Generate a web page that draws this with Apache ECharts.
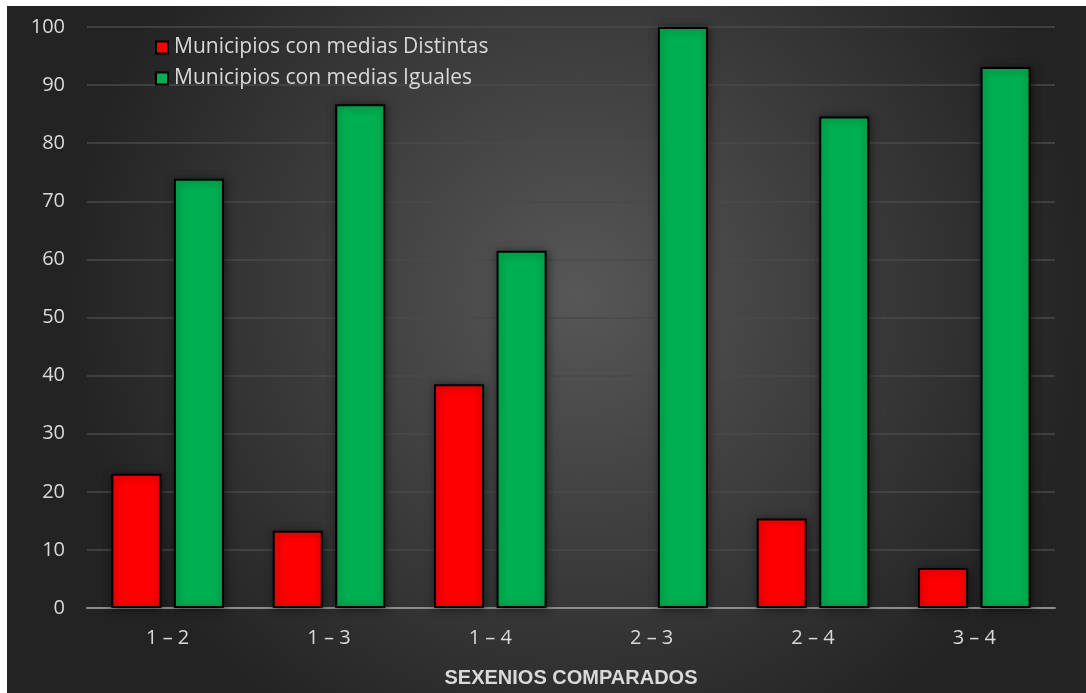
<!DOCTYPE html>
<html><head><meta charset="utf-8">
<script src="https://cdn.jsdelivr.net/npm/echarts@6/dist/echarts.min.js"></script>
<style>html,body{margin:0;padding:0;background:#fff;}#c{position:absolute;left:7px;top:6px;width:1079px;height:687px;}</style>
</head><body><div id="c"></div>
<script>
const categories = ['1 – 2','1 – 3','1 – 4','2 – 3','2 – 4','3 – 4'];
const distintas = [23.1, 13.3, 38.5, 0, 15.4, 6.9];
const iguales = [73.9, 86.7, 61.5, 100, 84.6, 93.1];
const seriesNames = ['Municipios con medias Distintas','Municipios con medias Iguales'];
const axisTitle = 'SEXENIOS COMPARADOS';

const chart = echarts.init(document.getElementById('c'));
const font = "'Open Sans', 'Liberation Sans', sans-serif";
const barStyle = c => ({color:c, borderColor:'#000', borderWidth:2, shadowColor:'rgba(0,0,0,0.5)', shadowBlur:8, shadowOffsetX:1, shadowOffsetY:1});
const toData = arr => arr.map(v => v === 0 ? {value:v, itemStyle:{borderWidth:0, shadowBlur:0}} : v);
chart.setOption({
  backgroundColor: {type:'radial', x:0.53, y:0.42, r:0.75, colorStops:[{offset:0,color:'#575757'},{offset:1,color:'#232323'}]},
  animation:false,
  grid:{left:80, right:31, top:21, bottom:84},
  legend:{
    orient:'vertical', left:143, top:26, icon:'rect', itemWidth:12, itemHeight:12, itemGap:10,
    textStyle:{color:'#d9d9d9', fontSize:21, fontFamily:font, padding:[0,0,0,1]},
    data:seriesNames.map(n=>({name:n, itemStyle:{borderColor:'#000', borderWidth:2}}))
  },
  xAxis:{type:'category', data:categories,
    axisLine:{lineStyle:{color:'#8c8c8c', width:2}}, axisTick:{show:false},
    axisLabel:{color:'#d9d9d9', fontSize:20, fontFamily:font, margin:20},
    name:axisTitle, nameLocation:'middle', nameGap:60,
    nameTextStyle:{color:'#d9d9d9', fontSize:20, fontWeight:'bold', fontFamily:"'Liberation Sans Narrow', 'Liberation Sans', sans-serif"}},
  yAxis:{type:'value', min:0, max:100, interval:10,
    axisLine:{show:false}, axisTick:{show:false},
    splitLine:{lineStyle:{color:'#4a4a4a', width:1.5}},
    axisLabel:{color:'#d9d9d9', fontSize:20, fontFamily:font, margin:22}},
  series:[
    {name:seriesNames[0], type:'bar', data:toData(distintas), barWidth:'31%', barGap:'25%', itemStyle:barStyle('#ff0000')},
    {name:seriesNames[1], type:'bar', data:toData(iguales), barWidth:'31%', barGap:'25%', itemStyle:barStyle('#00b050')}
  ]
});
</script></body></html>
